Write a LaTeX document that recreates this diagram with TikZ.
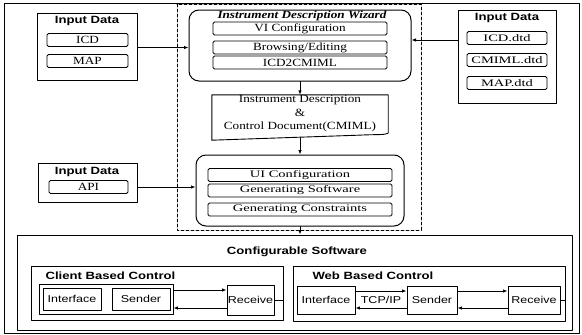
\documentclass[tikz,border=0pt]{standalone}
\usepackage{fontspec}
\setmainfont{Liberation Serif}[FakeStretch=1.2]
\newfontfamily\widefont{Liberation Serif}[FakeStretch=1.45]
\newfontfamily\labelfont{Liberation Sans}[FakeStretch=1.25]
\usetikzlibrary{arrows.meta}

\begin{document}
\begin{tikzpicture}[x=1pt, y=-1pt, line join=round, line cap=round,
  frame/.style={draw, line width=0.9pt, inner sep=0pt},
  field/.style={draw, line width=0.9pt, rounded corners=1.5pt, inner sep=0pt, minimum height=13pt, font=\fontsize{11}{13}\selectfont},
  widefield/.style={field, font=\widefont\fontsize{10}{12}\selectfont},
  roundbox/.style={draw, line width=1pt, rounded corners=10pt, inner sep=0pt},
  unit/.style={draw, line width=0.9pt, inner sep=0pt, font=\labelfont\fontsize{10}{12}\selectfont},
  title/.style={font=\labelfont\bfseries\fontsize{10.5}{12}\selectfont},
  flow/.style={line width=0.9pt, -{Latex[length=4.5pt,width=3.5pt]}}]
\useasboundingbox (0,0) rectangle (582,335);
\draw[line width=0.8pt] (4,3) rectangle (579,333);
\draw[line width=0.6pt, dash pattern=on 3pt off 2pt] (177,4) rectangle (421,230);

% input data, left
\node[frame, minimum width=100pt, minimum height=67pt] (inleft) at (87,46.5) {};
\node[title] (inlefttitle) at (87,21) {Input Data};
\node[field, minimum width=81pt] (icd) at (87.5,40) {ICD};
\node[field, minimum width=81pt] (map) at (87.5,61) {MAP};

% wizard
\node[roundbox, minimum width=222pt, minimum height=71pt] (wizard) at (300,45.5) {};
\node[font=\bfseries\itshape\fontsize{11}{13}\selectfont] (wiztitle) at (302,15.5) {Instrument Description Wizard};
\node[field, minimum width=174pt] (viconf) at (300,28.5) {VI Configuration};
\node[field, minimum width=174pt] (browse) at (300,47.5) {Browsing/Editing};
\node[field, minimum width=174pt] (icdcm) at (300,62.5) {ICD2CMIML};

% input data, right
\node[frame, minimum width=98pt, minimum height=93pt] (inright) at (507,56.5) {};
\node[title] (inrighttitle) at (507,18) {Input Data};
\node[widefield, minimum width=80pt] (dtdicd) at (507,38) {ICD.dtd};
\node[widefield, minimum width=80pt] (dtdcm) at (507,60) {CMIML.dtd};
\node[widefield, minimum width=80pt] (dtdmap) at (507,83) {MAP.dtd};

\draw[flow] (inleft.east |- browse) -- (wizard.west |- browse);
\draw[flow] ([yshift=-2pt]inright.west |- dtdicd) -- ([yshift=-2pt]wizard.east |- dtdicd);

% description document
\node[minimum width=176pt, minimum height=45pt, inner sep=0pt, align=center,
  font=\fontsize{11}{13.5}\selectfont] (iddoc) at (300,117.5)
  {Instrument Description\\ \&\\ Control Document(CMIML)\\[-4pt]};
\draw[line width=0.9pt] (iddoc.north west) -- (iddoc.north east) -- ([yshift=7pt]iddoc.south east)
  .. controls +(-4pt,-2pt) and +(20pt,1pt) .. ([xshift=-30pt,yshift=5pt]iddoc.south east)
  -- (iddoc.south west) -- cycle;
\draw[flow] (wizard.south) -- (iddoc.north);

% UI generation
\node[roundbox, minimum width=208pt, minimum height=71pt] (uipanel) at (300,190.5) {};
\node[widefield, minimum width=184pt] (uiconf) at (300,175) {UI Configuration};
\node[widefield, minimum width=184pt] (gensw) at (300,190.5) {Generating Software};
\node[widefield, minimum width=184pt] (gencon) at (300,209.5) {Generating Constraints};
\draw[flow] ([yshift=2.5pt]iddoc.south) -- (uipanel.north);

% input data, API
\node[frame, minimum width=99pt, minimum height=39pt] (inapi) at (87.5,182.5) {};
\node[title] (inapititle) at (87,172) {Input Data};
\node[field, minimum width=79pt] (api) at (88.5,187) {API};
\draw[flow] (inapi.east |- api) -- (uipanel.west |- api);

% configurable software
\node[frame, minimum width=555pt, minimum height=95pt] (cfg) at (294.5,282.5) {};
\node[title] (cfgtitle) at (297,252) {Configurable Software};
\draw[flow] (uipanel.south) -- (uipanel.south |- cfg.north);

% client based control
\node[frame, minimum width=252pt, minimum height=54pt] (client) at (157,293) {};
\node[title, anchor=west] (clienttitle) at (42,276) {Client Based Control};
\node[frame, minimum width=134pt, minimum height=30pt] (sendgrp) at (106,299) {};
\node[unit, minimum width=58pt, minimum height=22pt] (cinter) at (72,299) {Interface};
\node[unit, minimum width=58pt, minimum height=22pt] (csend) at (141,299) {Sender};
\node[unit, minimum width=47pt, minimum height=30pt] (crecv) at (250.5,300) {Receive};
\draw[flow] ([yshift=9pt]sendgrp.east) -- ([yshift=9pt]sendgrp.east -| crecv.west);
\draw[flow] ([yshift=-8pt]crecv.west) -- ([yshift=-8pt]crecv.west -| sendgrp.east);
\draw[line width=0.9pt] (crecv.east) -- (crecv.east -| client.east);

% web based control
\node[frame, minimum width=272pt, minimum height=55pt] (web) at (429,293.5) {};
\node[title, anchor=west] (webtitle) at (309,276) {Web Based Control};
\node[unit, minimum width=58pt, minimum height=28pt] (winter) at (326,300) {Interface};
\node[unit, minimum width=50pt, minimum height=28pt] (wsend) at (432,300) {Sender};
\node[unit, minimum width=52pt, minimum height=28pt] (wrecv) at (534,300) {Receive};
\node[font=\labelfont\fontsize{10}{12}\selectfont] (tcp) at (381,300) {TCP/IP};
\draw[flow] ([yshift=9pt]winter.east) -- ([yshift=9pt]wsend.west);
\draw[flow] ([yshift=-8pt]wsend.west) -- ([yshift=-8pt]winter.east);
\draw[flow] ([yshift=9pt]wsend.east) -- ([yshift=9pt]wrecv.west);
\draw[flow] ([yshift=-8pt]wrecv.west) -- ([yshift=-8pt]wsend.east);
\draw[line width=0.9pt] (wrecv.east) -- (wrecv.east -| web.east);
\end{tikzpicture}
\end{document}
